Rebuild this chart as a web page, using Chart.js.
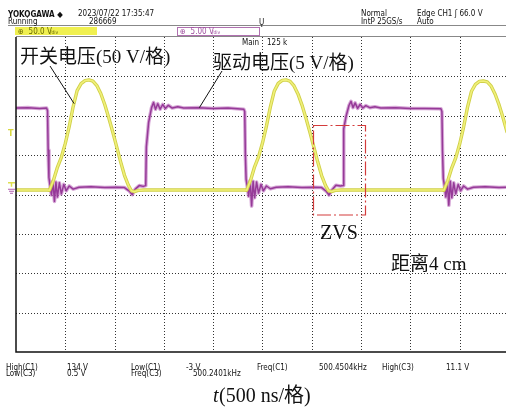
<!DOCTYPE html>
<html>
<head>
<meta charset="utf-8">
<script src="https://cdn.jsdelivr.net/npm/chart.js@4.4.1/dist/chart.umd.min.js"></script>
<style>
  body { margin: 0; background: #fff; }
  canvas { display: block; }
</style>
</head>
<body>
<canvas id="scope" width="506" height="414"></canvas>
<script>
// CH1 = switch voltage (yellow, 50 V/div), time in ns
const ch1Times = [0, 320,
  340, 380, 420, 460, 500, 540, 580, 620, 660, 700, 740, 780, 820, 860, 900, 940, 980, 1020, 1060, 1100, 1140, 1170, 1200, 1240, 1300,
  1800, 2320,
  2340, 2380, 2420, 2460, 2500, 2540, 2580, 2620, 2660, 2700, 2740, 2780, 2820, 2860, 2900, 2940, 2980, 3020, 3060, 3100, 3140, 3170, 3200, 3240, 3300,
  3800, 4320,
  4340, 4380, 4420, 4460, 4500, 4540, 4580, 4620, 4660, 4700, 4740, 4780, 4820, 4860, 4900, 4940, 4980];
const ch1Volts = [-1.6, -1.6,
  -1.9, 10.8, 27.2, 39.9, 57.6, 79.1, 104.4, 124.7, 133.5, 137.3, 138.2, 136.7, 131.0, 120.9, 107.0, 90.5, 72.8, 53.8, 34.8, 17.1, 4.4, -2.5, -3.8, -2.0, -1.6,
  -1.6, -1.6,
  -1.9, 11.2, 27.8, 40.5, 58.0, 79.6, 104.0, 124.2, 133.8, 137.6, 138.2, 136.5, 130.6, 120.4, 106.6, 90.0, 72.2, 53.4, 34.2, 16.8, 4.0, -2.6, -3.6, -2.0, -1.6,
  -1.6, -1.6,
  -1.9, 10.4, 26.6, 39.2, 56.8, 78.4, 103.6, 123.8, 132.6, 136.4, 136.8, 135.6, 130.2, 120.0, 106.4, 90.2, 72.4];

// CH3 = gate drive voltage (purple, 5 V/div), time in ns
const ch3Times = [0, 120, 240,
  310, 320, 326, 334, 345, 360, 375, 390, 405, 420, 440, 460, 485, 510, 540, 580, 640, 760, 900, 1020, 1100,
  1150, 1180, 1210, 1250, 1290, 1316, 1322, 1345, 1375, 1395, 1415, 1438, 1462, 1488, 1515, 1545, 1585, 1640, 1700, 1850, 2000, 2150,
  2310, 2320, 2326, 2334, 2345, 2360, 2375, 2390, 2405, 2420, 2440, 2460, 2485, 2510, 2540, 2580, 2640, 2760, 2900, 3020, 3100,
  3150, 3175, 3205, 3245, 3290, 3318, 3324, 3348, 3378, 3398, 3418, 3440, 3465, 3490, 3518, 3548, 3588, 3640, 3700, 3850, 4000, 4150,
  4310, 4320, 4326, 4334, 4345, 4360, 4375, 4390, 4405, 4420, 4440, 4460, 4485, 4510, 4540, 4580, 4640, 4760, 4900, 4980];
const ch3Volts = [10.25, 10.3, 10.2,
  10.25, 9.9, 4.9, 1.4, 0.45, -0.8, 0.95, -1.6, 0.85, -1.05, 0.75, -0.65, 0.55, -0.25, 0.35, -0.05, 0.2, 0.25, 0.15, 0.2, 0.15,
  -0.3, -0.75, -0.05, 0.4, 0.3, 0.4, 5.3, 8.4, 10.3, 10.95, 10.1, 10.8, 10.1, 10.7, 10.2, 10.6, 10.25, 10.4, 10.25, 10.3, 10.2, 10.25,
  10.1, 9.8, 4.6, 1.2, 0.35, -0.95, 1.05, -2.2, 0.95, -1.15, 0.85, -0.55, 0.55, -0.25, 0.35, 0.0, 0.2, 0.25, 0.15, 0.2, 0.15,
  -0.35, -0.8, -0.15, 0.45, 0.35, 0.4, 7.6, 9.2, 10.6, 11.1, 10.3, 10.9, 10.2, 10.7, 10.25, 10.55, 10.3, 10.4, 10.25, 10.3, 10.2, 10.2,
  10.15, 9.8, 4.8, 1.3, 0.45, -1.05, 0.75, -2.1, 0.95, -1.15, 0.75, -0.65, 0.55, -0.25, 0.35, -0.05, 0.2, 0.25, 0.15, 0.2];

// axis setup (oscilloscope graticule: 10 x 8 divisions)
const nsPerDiv = 500;
const xMax = 4970;          // right edge of the visible screen
const ch1Range = [-207.3, 192.7];  // 50 V/div, ground marker offset
const ch3Range = [-20.73, 19.27];  // 5 V/div

const headerLeft = ["YOKOGAWA \u25C6", "2023/07/22 17:35:47", "Running", "286669"];
const headerRight = ["Normal", "IntP 25GS/s", "Edge CH1 \u0283 66.0 V", "Auto"];
const measRow1 = [["High(C1)", 6], ["134 V", 67], ["Low(C1)", 131], ["-3 V", 186], ["Freq(C1)", 257], ["500.4504kHz", 319], ["High(C3)", 382], ["11.1 V", 446]];
const measRow2 = [["Low(C3)", 6], ["0.5 V", 67], ["Freq(C3)", 131], ["500.2401kHz", 193]];

const zip = (ts, vs) => ts.map((t, i) => ({ x: t, y: vs[i] }));

const cjkFont = (px) => `${px}px "Liberation Serif", "Noto Sans CJK SC", serif`;
const smallFont = (px, bold) => `${bold ? "bold " : ""}${px}px "Liberation Sans Narrow", "DejaVu Sans Condensed", "Liberation Sans", sans-serif`;

// dotted graticule, positions taken from the scales
const graticule = {
  id: "graticule",
  beforeDatasetsDraw(chart) {
    const ctx = chart.ctx;
    const a = chart.chartArea;
    const xs = chart.scales.x, ys = chart.scales.y;
    ctx.save();
    ctx.strokeStyle = "#333";
    ctx.lineWidth = 1;
    ctx.setLineDash([1, 2]);
    ctx.beginPath();
    for (let v = nsPerDiv; v < xMax; v += nsPerDiv) {
      const px = Math.round(xs.getPixelForValue(v)) + 0.5;
      ctx.moveTo(px, a.top);
      ctx.lineTo(px, a.bottom);
    }
    for (let d = -3; d <= 3; d++) {
      const py = Math.round(ys.getPixelForValue(d)) + 0.5;
      ctx.moveTo(a.left, py);
      ctx.lineTo(a.right, py);
    }
    ctx.stroke();
    ctx.restore();
  }
};

const decor = {
  id: "decor",
  afterDraw(chart) {
    const ctx = chart.ctx;
    const a = chart.chartArea;
    const xs = chart.scales.x, y1 = chart.scales.y1, y3 = chart.scales.y3;
    ctx.save();

    // frame
    ctx.strokeStyle = "#111";
    ctx.lineWidth = 1.5;
    ctx.beginPath();
    ctx.moveTo(a.left, a.top);
    ctx.lineTo(a.left, a.bottom);
    ctx.lineTo(a.right, a.bottom);
    ctx.stroke();
    ctx.strokeStyle = "#888";
    ctx.lineWidth = 1;
    ctx.beginPath();
    ctx.moveTo(a.left, a.top - 0.5);
    ctx.lineTo(a.right, a.top - 0.5);
    ctx.moveTo(8, 25.5);
    ctx.lineTo(506, 25.5);
    ctx.stroke();

    // header
    ctx.fillStyle = "#111";
    ctx.textBaseline = "alphabetic";
    ctx.font = smallFont(8, true);
    ctx.fillText(headerLeft[0], 8, 17);
    ctx.font = smallFont(8);
    ctx.fillText(headerLeft[1], 78, 16);
    ctx.fillText(headerLeft[2], 8, 24);
    ctx.fillText(headerLeft[3], 89, 24);
    ctx.fillText(headerRight[0], 361, 16);
    ctx.fillText(headerRight[1], 361, 24);
    ctx.fillText(headerRight[2], 417, 16);
    ctx.fillText(headerRight[3], 417, 24);
    ctx.fillText("\u0172", 259, 25);
    ctx.fillText("Main", 242, 45);
    ctx.fillText("125 k", 267, 45);

    // channel boxes
    ctx.fillStyle = "#f0f050";
    ctx.fillRect(15, 27, 82, 8);
    ctx.fillStyle = "#6a6a00";
    ctx.font = smallFont(8);
    ctx.fillText("\u2295  50.0 V", 18, 34);
    ctx.font = smallFont(5);
    ctx.fillText("/div", 50, 34);
    ctx.strokeStyle = "#b070b0";
    ctx.strokeRect(177.5, 27.5, 82, 8);
    ctx.fillStyle = "#a050a0";
    ctx.font = smallFont(8);
    ctx.fillText("\u2295  5.00 V", 180, 34);
    ctx.font = smallFont(5);
    ctx.fillText("/div", 212, 34);

    // left markers: trigger level + ground marks
    ctx.fillStyle = "#d8d840";
    ctx.font = smallFont(9, true);
    ctx.fillText("T", 8, 136);
    const g1 = y1.getPixelForValue(0);
    ctx.strokeStyle = "#dede50";
    ctx.lineWidth = 1.5;
    ctx.beginPath();
    ctx.moveTo(8, g1 - 6); ctx.lineTo(15, g1 - 6);
    ctx.moveTo(11.5, g1 - 6); ctx.lineTo(11.5, g1 - 2);
    ctx.stroke();
    ctx.strokeStyle = "#b060b0";
    ctx.lineWidth = 1;
    ctx.beginPath();
    ctx.moveTo(8, g1 + 0.5); ctx.lineTo(15, g1 + 0.5);
    ctx.moveTo(9, g1 + 2.5); ctx.lineTo(14, g1 + 2.5);
    ctx.moveTo(10, g1 + 4.5); ctx.lineTo(13, g1 + 4.5);
    ctx.stroke();

    // ZVS box (dash-dot)
    ctx.strokeStyle = "#d43c3c";
    ctx.lineWidth = 1.2;
    ctx.setLineDash([14, 3, 2, 3]);
    ctx.strokeRect(313.5, 125.5, 52, 89.5);
    ctx.setLineDash([]);

    // annotations
    ctx.fillStyle = "#111";
    ctx.font = cjkFont(19);
    ctx.fillText("开关电压(50 V/格)", 20, 63);
    ctx.fillText("驱动电压(5 V/格)", 213, 69);
    ctx.font = '20px "Liberation Serif", serif';
    ctx.fillText("ZVS", 320, 239);
    ctx.font = cjkFont(19);
    ctx.fillText("距离4 cm", 391, 270);

    // leader lines (end on the traces)
    ctx.strokeStyle = "#111";
    ctx.lineWidth = 1;
    ctx.beginPath();
    ctx.moveTo(50, 66);
    ctx.lineTo(xs.getPixelForValue(590), y1.getPixelForValue(108));
    ctx.moveTo(222, 71);
    ctx.lineTo(xs.getPixelForValue(1860), y3.getPixelForValue(10.3));
    ctx.stroke();

    // measurements
    ctx.fillStyle = "#111";
    ctx.font = smallFont(8);
    measRow1.forEach(([t, x]) => ctx.fillText(t, x, 370));
    measRow2.forEach(([t, x]) => ctx.fillText(t, x, 376));

    // axis title
    ctx.font = 'italic 20px "Liberation Serif", serif';
    ctx.fillText("t", 213, 402);
    ctx.font = cjkFont(20);
    ctx.fillText("(500 ns/格)", 219, 402);

    ctx.restore();
  }
};

new Chart(document.getElementById("scope"), {
  type: "line",
  data: {
    datasets: [
      { data: zip(ch1Times, ch1Volts), yAxisID: "y1", borderColor: "#f0f07a", borderWidth: 1.6, order: 1 },
      { data: zip(ch1Times, ch1Volts), yAxisID: "y1", borderColor: "#d0d048", borderWidth: 3.4, order: 2 },
      { data: zip(ch3Times, ch3Volts), yAxisID: "y3", borderColor: "#963a98", borderWidth: 1.5, order: 3 },
      { data: zip(ch3Times, ch3Volts), yAxisID: "y3", borderColor: "rgba(196,128,196,0.7)", borderWidth: 3.6, order: 4 }
    ]
  },
  options: {
    responsive: false,
    devicePixelRatio: 1,
    animation: false,
    events: [],
    layout: { padding: { left: 16, right: 0, top: 37, bottom: 62 } },
    elements: {
      point: { radius: 0 },
      line: { tension: 0, borderJoinStyle: "round", borderCapStyle: "round" }
    },
    plugins: { legend: { display: false }, tooltip: { enabled: false } },
    scales: {
      x: {
        type: "linear", min: 0, max: xMax,
        ticks: { display: false, stepSize: nsPerDiv },
        grid: { display: false, drawTicks: false },
        border: { display: false }
      },
      y: {
        type: "linear", min: -4, max: 4, position: "left",
        ticks: { display: false, stepSize: 1 },
        grid: { display: false, drawTicks: false },
        border: { display: false }
      },
      y1: { type: "linear", display: false, min: ch1Range[0], max: ch1Range[1] },
      y3: { type: "linear", display: false, min: ch3Range[0], max: ch3Range[1] }
    }
  },
  plugins: [graticule, decor]
});
</script>
</body>
</html>
